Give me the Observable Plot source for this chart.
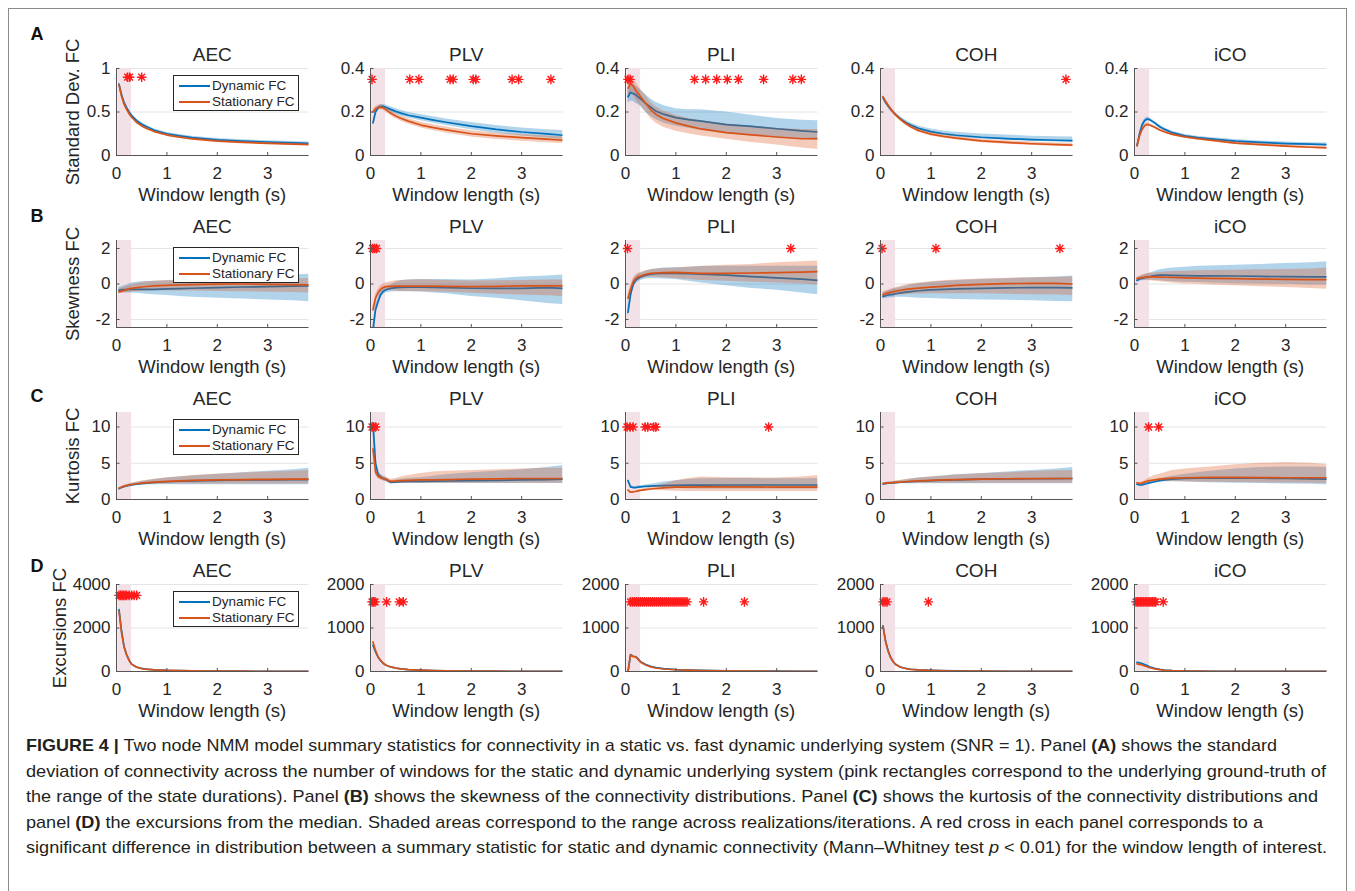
<!DOCTYPE html>
<html><head><meta charset="utf-8">
<script src="https://cdn.jsdelivr.net/npm/d3@7"></script>
<script src="https://cdn.jsdelivr.net/npm/@observablehq/plot@0.6"></script>
<style>
body{margin:0;background:#fff;font-family:"Liberation Sans",Arial,Helvetica,sans-serif;}
#fig{position:relative;width:1355px;height:891px;overflow:hidden;background:#fff;}
#frame{position:absolute;left:8px;top:8px;width:1339px;height:1000px;border:1px solid #8a8a8a;box-sizing:border-box;}
.lbl{position:absolute;white-space:nowrap;line-height:1;color:#262626;transform:translate(-50%,-50%);}
.ylbl{position:absolute;white-space:nowrap;line-height:1;color:#262626;transform:translate(-50%,-50%) rotate(-90deg);}
.letter{position:absolute;font-weight:bold;font-size:18px;color:#111;transform:translate(-50%,-50%);line-height:1;}
.legend{position:absolute;width:126px;height:36px;border:1px solid #262626;background:#fff;box-sizing:border-box;font-size:13.5px;color:#262626;}
.legend .row{position:absolute;left:0;height:16px;width:100%;}
.legend .sw{position:absolute;left:5px;top:7px;width:31px;height:2px;}
.legend .tx{position:absolute;left:38px;top:0;line-height:16px;white-space:nowrap;}
#caption{position:absolute;left:26px;top:733px;font-size:17px;color:#231f20;}
#caption .ln{height:25.5px;line-height:25.5px;white-space:nowrap;}
svg.sub{position:absolute;overflow:visible;}
</style></head>
<body><div id="fig"><div id="frame"></div></div>
<script>
// ---------------- data ----------------
const windowLength = [0.05,0.1,0.15,0.2,0.25,0.3,0.4,0.5,0.6,0.75,1.0,1.25,1.5,2.0,2.5,3.0,3.5,3.82];
const measures = ["AEC","PLV","PLI","COH","iCO"];
const seriesNames = ["Dynamic FC","Stationary FC"];
const seriesColors = ["#0072BD","#D95319"];
const yLabels = ["Standard Dev. FC","Skewness FC","Kurtosis FC","Excursions FC"];
const panelLetters = ["A","B","C","D"];
const stateRange = [0.025, 0.3];
const xTicks = [0,1,2,3];
const xDomain = [0, 3.82];

// Row A: standard deviation
const sdAEC_dyn   = [0.82,0.70,0.61,0.55,0.50,0.46,0.40,0.36,0.33,0.29,0.25,0.225,0.205,0.18,0.165,0.155,0.145,0.14];
const sdAEC_dynLo = [0.81,0.69,0.60,0.54,0.49,0.45,0.39,0.35,0.32,0.28,0.24,0.215,0.195,0.17,0.155,0.145,0.135,0.13];
const sdAEC_dynHi = [0.83,0.71,0.63,0.57,0.52,0.48,0.42,0.38,0.345,0.305,0.265,0.24,0.22,0.195,0.18,0.17,0.16,0.155];
const sdAEC_sta   = [0.81,0.68,0.59,0.53,0.48,0.44,0.38,0.34,0.31,0.275,0.235,0.21,0.19,0.165,0.15,0.14,0.13,0.125];
const sdAEC_staLo = [0.80,0.67,0.58,0.52,0.47,0.43,0.37,0.33,0.30,0.265,0.225,0.20,0.18,0.155,0.14,0.13,0.12,0.115];
const sdAEC_staHi = [0.82,0.69,0.60,0.54,0.49,0.45,0.39,0.35,0.32,0.285,0.245,0.22,0.20,0.175,0.16,0.15,0.14,0.135];

const sdPLV_dyn   = [0.15,0.20,0.218,0.225,0.226,0.222,0.212,0.203,0.195,0.185,0.174,0.163,0.153,0.135,0.12,0.108,0.099,0.093];
const sdPLV_dynLo = [0.14,0.19,0.21,0.215,0.216,0.212,0.200,0.190,0.182,0.172,0.160,0.148,0.138,0.118,0.102,0.09,0.08,0.072];
const sdPLV_dynHi = [0.16,0.21,0.226,0.235,0.236,0.232,0.224,0.216,0.208,0.198,0.188,0.178,0.168,0.152,0.138,0.126,0.118,0.115];
const sdPLV_sta   = [0.20,0.215,0.22,0.222,0.219,0.212,0.195,0.182,0.171,0.158,0.140,0.128,0.118,0.100,0.090,0.082,0.075,0.07];
const sdPLV_staLo = [0.19,0.205,0.21,0.212,0.208,0.200,0.183,0.170,0.158,0.145,0.127,0.114,0.103,0.085,0.074,0.066,0.059,0.055];
const sdPLV_staHi = [0.21,0.225,0.23,0.232,0.229,0.222,0.206,0.193,0.183,0.170,0.153,0.141,0.131,0.114,0.104,0.096,0.09,0.086];

const sdPLI_dyn   = [0.27,0.29,0.285,0.28,0.27,0.26,0.24,0.222,0.205,0.19,0.174,0.165,0.158,0.142,0.134,0.123,0.113,0.108];
const sdPLI_dynLo = [0.24,0.25,0.25,0.24,0.235,0.225,0.20,0.18,0.165,0.15,0.135,0.125,0.115,0.10,0.09,0.082,0.075,0.07];
const sdPLI_dynHi = [0.30,0.33,0.33,0.32,0.31,0.30,0.28,0.26,0.245,0.23,0.215,0.21,0.21,0.20,0.185,0.17,0.162,0.16];
const sdPLI_sta   = [0.31,0.33,0.32,0.30,0.285,0.27,0.24,0.21,0.19,0.17,0.150,0.135,0.122,0.105,0.095,0.085,0.077,0.078];
const sdPLI_staLo = [0.27,0.29,0.28,0.26,0.245,0.23,0.20,0.17,0.15,0.13,0.112,0.10,0.09,0.075,0.06,0.048,0.035,0.028];
const sdPLI_staHi = [0.34,0.36,0.355,0.34,0.32,0.305,0.275,0.245,0.225,0.205,0.185,0.17,0.16,0.145,0.135,0.125,0.12,0.12];

const sdCOH_dyn   = [0.265,0.245,0.228,0.213,0.20,0.188,0.168,0.152,0.14,0.125,0.11,0.10,0.093,0.084,0.078,0.073,0.07,0.068];
const sdCOH_dynLo = [0.257,0.237,0.22,0.205,0.192,0.18,0.16,0.144,0.132,0.117,0.102,0.092,0.085,0.076,0.07,0.065,0.062,0.06];
const sdCOH_dynHi = [0.273,0.253,0.236,0.221,0.208,0.196,0.177,0.162,0.15,0.136,0.122,0.113,0.107,0.099,0.094,0.089,0.086,0.085];
const sdCOH_sta   = [0.27,0.25,0.232,0.215,0.20,0.187,0.165,0.147,0.132,0.115,0.098,0.088,0.08,0.067,0.06,0.054,0.05,0.048];
const sdCOH_staLo = [0.262,0.242,0.224,0.207,0.192,0.179,0.157,0.139,0.124,0.107,0.09,0.08,0.072,0.059,0.052,0.046,0.042,0.04];
const sdCOH_staHi = [0.278,0.258,0.24,0.223,0.208,0.195,0.173,0.155,0.14,0.123,0.106,0.096,0.088,0.075,0.068,0.062,0.058,0.056];

const sdICO_dyn   = [0.045,0.10,0.14,0.16,0.168,0.165,0.15,0.132,0.12,0.105,0.09,0.082,0.076,0.066,0.06,0.055,0.052,0.05];
const sdICO_dynLo = [0.04,0.094,0.133,0.152,0.16,0.157,0.142,0.125,0.113,0.098,0.083,0.075,0.069,0.059,0.053,0.048,0.045,0.043];
const sdICO_dynHi = [0.05,0.106,0.147,0.168,0.176,0.173,0.158,0.14,0.127,0.112,0.097,0.089,0.083,0.073,0.067,0.062,0.059,0.057];
const sdICO_sta   = [0.045,0.09,0.12,0.137,0.143,0.14,0.13,0.117,0.108,0.097,0.085,0.077,0.07,0.057,0.05,0.043,0.038,0.035];
const sdICO_staLo = [0.04,0.085,0.114,0.131,0.137,0.134,0.124,0.111,0.102,0.091,0.079,0.071,0.064,0.051,0.044,0.037,0.032,0.029];
const sdICO_staHi = [0.05,0.095,0.126,0.143,0.149,0.146,0.136,0.123,0.114,0.103,0.091,0.083,0.076,0.063,0.056,0.049,0.044,0.041];

// Row B: skewness
const skAEC_dyn   = [-0.35,-0.33,-0.32,-0.31,-0.3,-0.3,-0.3,-0.3,-0.3,-0.3,-0.28,-0.26,-0.24,-0.2,-0.17,-0.15,-0.12,-0.1];
const skAEC_dynLo = [-0.5,-0.5,-0.5,-0.5,-0.5,-0.5,-0.52,-0.55,-0.58,-0.6,-0.65,-0.7,-0.75,-0.8,-0.85,-0.9,-0.95,-1.0];
const skAEC_dynHi = [-0.2,-0.15,-0.1,-0.05,0,0.05,0.1,0.12,0.14,0.15,0.18,0.2,0.22,0.28,0.35,0.45,0.5,0.55];
const skAEC_sta   = [-0.45,-0.4,-0.36,-0.32,-0.28,-0.25,-0.2,-0.17,-0.14,-0.11,-0.08,-0.05,-0.03,-0.01,0,-0.02,-0.04,-0.05];
const skAEC_staLo = [-0.55,-0.52,-0.5,-0.48,-0.46,-0.45,-0.43,-0.42,-0.41,-0.4,-0.4,-0.4,-0.4,-0.42,-0.44,-0.46,-0.48,-0.5];
const skAEC_staHi = [-0.3,-0.25,-0.2,-0.15,-0.1,-0.05,0.02,0.08,0.12,0.16,0.2,0.22,0.25,0.28,0.3,0.3,0.3,0.3];

const skPLV_dyn   = [-2.6,-1.45,-1.0,-0.6,-0.42,-0.33,-0.25,-0.2,-0.19,-0.18,-0.18,-0.19,-0.2,-0.24,-0.25,-0.25,-0.2,-0.25];
const skPLV_dynLo = [-2.8,-1.7,-1.2,-0.8,-0.6,-0.5,-0.45,-0.43,-0.43,-0.43,-0.45,-0.5,-0.55,-0.7,-0.8,-0.95,-1.1,-1.15];
const skPLV_dynHi = [-2.3,-1.2,-0.8,-0.4,-0.25,-0.15,-0.05,0.1,0.18,0.22,0.25,0.25,0.25,0.22,0.3,0.4,0.45,0.5];
const skPLV_sta   = [-1.45,-0.8,-0.5,-0.3,-0.2,-0.15,-0.13,-0.12,-0.12,-0.12,-0.12,-0.12,-0.13,-0.15,-0.13,-0.1,-0.1,-0.1];
const skPLV_staLo = [-1.6,-1.0,-0.7,-0.5,-0.4,-0.35,-0.38,-0.4,-0.42,-0.42,-0.43,-0.45,-0.47,-0.52,-0.58,-0.62,-0.66,-0.7];
const skPLV_staHi = [-1.3,-0.6,-0.3,-0.1,0,0.05,0.12,0.18,0.2,0.22,0.24,0.22,0.2,0.17,0.18,0.2,0.22,0.22];

const skPLI_dyn   = [-1.6,-0.6,-0.05,0.2,0.32,0.4,0.5,0.55,0.58,0.6,0.6,0.58,0.55,0.5,0.42,0.35,0.27,0.2];
const skPLI_dynLo = [-1.9,-0.9,-0.3,0,0.12,0.2,0.28,0.3,0.3,0.28,0.25,0.15,0.05,-0.1,-0.25,-0.35,-0.5,-0.6];
const skPLI_dynHi = [-1.3,-0.3,0.2,0.4,0.5,0.6,0.72,0.8,0.85,0.9,0.92,0.95,0.98,1.0,1.0,1.0,1.0,1.0];
const skPLI_sta   = [-0.8,-0.3,0.1,0.3,0.4,0.45,0.55,0.6,0.62,0.64,0.65,0.63,0.6,0.6,0.62,0.64,0.67,0.7];
const skPLI_staLo = [-1.0,-0.5,-0.1,0.1,0.22,0.28,0.35,0.38,0.38,0.35,0.3,0.25,0.2,0.15,0.1,0.05,0,-0.05];
const skPLI_staHi = [-0.6,-0.1,0.3,0.5,0.6,0.65,0.75,0.8,0.85,0.88,0.9,0.95,1.0,1.05,1.1,1.2,1.25,1.3];

const skCOH_dyn   = [-0.7,-0.66,-0.62,-0.6,-0.58,-0.55,-0.5,-0.46,-0.43,-0.38,-0.33,-0.3,-0.28,-0.25,-0.22,-0.2,-0.2,-0.22];
const skCOH_dynLo = [-0.85,-0.82,-0.8,-0.78,-0.77,-0.75,-0.75,-0.75,-0.77,-0.8,-0.82,-0.85,-0.88,-0.9,-0.92,-0.95,-0.98,-1.0];
const skCOH_dynHi = [-0.5,-0.45,-0.4,-0.35,-0.3,-0.25,-0.2,-0.12,-0.05,0.02,0.1,0.15,0.2,0.25,0.3,0.35,0.4,0.45];
const skCOH_sta   = [-0.6,-0.55,-0.5,-0.47,-0.44,-0.4,-0.35,-0.3,-0.27,-0.23,-0.18,-0.13,-0.08,-0.02,0.02,0.04,0.03,0.0];
const skCOH_staLo = [-0.75,-0.72,-0.7,-0.68,-0.66,-0.64,-0.62,-0.6,-0.58,-0.56,-0.55,-0.55,-0.55,-0.55,-0.58,-0.6,-0.62,-0.65];
const skCOH_staHi = [-0.45,-0.4,-0.35,-0.3,-0.25,-0.2,-0.12,-0.05,0,0.06,0.12,0.18,0.22,0.28,0.32,0.35,0.38,0.4];

const skICO_dyn   = [0.2,0.28,0.32,0.36,0.4,0.42,0.47,0.5,0.5,0.49,0.47,0.46,0.46,0.45,0.43,0.41,0.4,0.4];
const skICO_dynLo = [0.1,0.15,0.18,0.2,0.22,0.22,0.2,0.18,0.15,0.12,0.1,0.08,0.06,0.02,0,-0.02,-0.05,-0.05];
const skICO_dynHi = [0.3,0.4,0.45,0.5,0.55,0.6,0.7,0.8,0.85,0.9,0.95,1.0,1.02,1.05,1.1,1.15,1.2,1.25];
const skICO_sta   = [0.3,0.33,0.36,0.38,0.4,0.4,0.4,0.39,0.38,0.37,0.35,0.33,0.32,0.3,0.28,0.26,0.25,0.25];
const skICO_staLo = [0.2,0.22,0.22,0.22,0.2,0.18,0.15,0.12,0.1,0.05,0,-0.02,-0.05,-0.1,-0.15,-0.2,-0.25,-0.3];
const skICO_staHi = [0.4,0.45,0.5,0.55,0.58,0.6,0.62,0.65,0.68,0.7,0.72,0.74,0.76,0.78,0.8,0.82,0.85,0.9];

// Row C: kurtosis
const kuAEC_dyn   = [1.5,1.65,1.78,1.88,1.95,2.02,2.12,2.2,2.27,2.35,2.45,2.52,2.58,2.65,2.7,2.72,2.73,2.75];
const kuAEC_dynLo = [1.4,1.55,1.68,1.78,1.85,1.9,1.95,2.0,2.02,2.05,2.05,2.05,2.05,2.05,2.05,2.05,2.05,2.05];
const kuAEC_dynHi = [1.6,1.75,1.9,2.0,2.1,2.2,2.35,2.5,2.6,2.75,2.95,3.1,3.25,3.5,3.7,3.9,4.1,4.3];
const kuAEC_sta   = [1.55,1.7,1.82,1.92,2.0,2.07,2.17,2.25,2.32,2.4,2.5,2.58,2.63,2.7,2.75,2.78,2.8,2.8];
const kuAEC_staLo = [1.45,1.6,1.72,1.82,1.9,1.96,2.02,2.06,2.1,2.12,2.15,2.15,2.15,2.15,2.15,2.15,2.15,2.15];
const kuAEC_staHi = [1.65,1.8,1.95,2.05,2.15,2.25,2.4,2.55,2.65,2.8,3.0,3.15,3.3,3.5,3.65,3.8,3.9,4.0];

const kuPLV_dyn   = [10.5,5.0,3.5,3.1,2.9,2.8,2.35,2.4,2.45,2.48,2.5,2.53,2.55,2.6,2.65,2.7,2.75,2.8];
const kuPLV_dynLo = [9.0,4.3,3.1,2.8,2.6,2.5,2.2,2.2,2.2,2.2,2.2,2.2,2.2,2.2,2.2,2.2,2.2,2.2];
const kuPLV_dynHi = [11.5,6.0,4.0,3.5,3.2,3.1,2.6,2.7,2.8,2.9,3.0,3.2,3.4,3.7,3.9,4.1,4.4,4.7];
const kuPLV_sta   = [7.0,3.8,3.2,3.0,2.9,2.8,2.5,2.55,2.6,2.65,2.7,2.72,2.75,2.8,2.85,2.9,2.9,2.9];
const kuPLV_staLo = [6.0,3.3,2.9,2.7,2.6,2.5,2.25,2.25,2.25,2.25,2.25,2.25,2.25,2.25,2.25,2.25,2.25,2.25];
const kuPLV_staHi = [8.0,4.5,3.6,3.4,3.2,3.1,2.8,2.9,3.1,3.3,3.6,3.8,3.9,4.0,4.1,4.2,4.3,4.3];

const kuPLI_dyn   = [2.6,1.75,1.65,1.65,1.7,1.75,1.8,1.85,1.88,1.92,1.95,1.97,1.98,2.0,2.0,2.0,2.0,2.0];
const kuPLI_dynLo = [2.4,1.6,1.5,1.5,1.55,1.6,1.65,1.7,1.7,1.65,1.55,1.5,1.45,1.45,1.45,1.45,1.45,1.45];
const kuPLI_dynHi = [2.8,1.9,1.8,1.8,1.85,1.9,2.0,2.1,2.2,2.4,2.6,2.75,2.85,2.9,2.9,2.85,2.85,2.9];
const kuPLI_sta   = [1.3,1.0,1.05,1.1,1.18,1.25,1.35,1.45,1.52,1.6,1.7,1.72,1.74,1.75,1.73,1.71,1.7,1.7];
const kuPLI_staLo = [1.2,0.9,0.95,1.0,1.05,1.1,1.2,1.25,1.25,1.2,1.15,1.1,1.1,1.1,1.1,1.1,1.1,1.1];
const kuPLI_staHi = [1.4,1.1,1.15,1.2,1.3,1.4,1.55,1.7,1.85,2.1,2.6,2.9,3.1,3.0,3.0,2.95,3.1,3.3];

const kuCOH_dyn   = [2.15,2.2,2.25,2.28,2.3,2.33,2.38,2.42,2.46,2.52,2.6,2.66,2.72,2.8,2.84,2.86,2.88,2.9];
const kuCOH_dynLo = [2.05,2.1,2.12,2.14,2.15,2.16,2.17,2.18,2.18,2.18,2.18,2.18,2.18,2.18,2.18,2.18,2.18,2.18];
const kuCOH_dynHi = [2.25,2.3,2.38,2.42,2.46,2.5,2.6,2.7,2.8,2.95,3.1,3.25,3.4,3.6,3.8,4.0,4.2,4.4];
const kuCOH_sta   = [2.2,2.25,2.28,2.3,2.33,2.36,2.4,2.45,2.5,2.56,2.63,2.7,2.75,2.82,2.86,2.88,2.9,2.9];
const kuCOH_staLo = [2.1,2.15,2.18,2.2,2.22,2.23,2.24,2.25,2.25,2.25,2.25,2.25,2.25,2.25,2.25,2.25,2.25,2.25];
const kuCOH_staHi = [2.3,2.35,2.4,2.45,2.5,2.55,2.65,2.75,2.85,2.98,3.12,3.25,3.38,3.55,3.7,3.85,3.95,4.0];

const kuICO_dyn   = [2.1,2.0,2.02,2.1,2.2,2.3,2.45,2.6,2.7,2.8,2.9,2.93,2.95,2.95,2.93,2.9,2.85,2.8];
const kuICO_dynLo = [2.0,1.9,1.92,2.0,2.1,2.2,2.3,2.4,2.45,2.45,2.4,2.35,2.3,2.25,2.2,2.15,2.1,2.05];
const kuICO_dynHi = [2.2,2.1,2.15,2.25,2.35,2.45,2.65,2.85,3.0,3.2,3.5,3.7,3.9,4.2,4.4,4.5,4.5,4.4];
const kuICO_sta   = [2.3,2.2,2.25,2.4,2.5,2.6,2.7,2.8,2.88,2.95,3.0,3.03,3.05,3.05,3.03,3.0,3.0,3.0];
const kuICO_staLo = [2.2,2.1,2.15,2.3,2.4,2.45,2.5,2.55,2.55,2.5,2.45,2.4,2.38,2.35,2.3,2.28,2.25,2.2];
const kuICO_staHi = [2.4,2.35,2.45,2.6,2.8,3.0,3.3,3.5,3.7,4.0,4.2,4.35,4.5,4.8,5.0,5.1,5.0,4.8];

// Row D: excursions (ranges are too thin to see)
const exAEC_dyn = [2850,1850,1150,780,520,340,200,140,105,75,50,38,30,20,14,10,8,6];
const exAEC_sta = [2750,1800,1120,760,500,330,195,135,100,72,48,36,28,18,13,9,7,5];
const exPLV_dyn = [600,450,330,250,190,150,105,80,62,45,30,22,17,10,7,5,4,3];
const exPLV_sta = [680,480,340,255,195,150,105,78,60,44,30,22,17,10,7,5,4,3];
const exPLI_dyn = [0,390,350,345,290,225,160,120,90,65,45,33,25,15,10,7,5,4];
const exPLI_sta = [0,380,340,335,280,215,150,105,80,58,40,30,22,14,9,6,4,3];
const exCOH_dyn = [1050,700,480,330,230,165,100,70,52,38,25,18,13,8,5,4,3,2];
const exCOH_sta = [1040,690,470,320,225,160,98,68,50,36,24,17,12,7,5,4,3,2];
const exICO_dyn = [210,200,185,160,135,110,72,48,33,20,12,8,6,4,3,2,2,1];
const exICO_sta = [175,165,150,130,110,90,62,42,29,18,10,7,5,3,2,2,1,1];

// significance markers (window lengths)
const starsSdAEC = [0.22,0.26,0.5];
const starsSdPLV = [0.03,0.78,0.96,1.58,1.64,2.04,2.09,2.81,2.94,3.58];
const starsSdPLI = [0.05,0.09,1.37,1.59,1.81,2.02,2.24,2.74,3.32,3.49];
const starsSdCOH = [3.68];
const starsSdICO = [];
const starsSkAEC = [];
const starsSkPLV = [0.04,0.08,0.12];
const starsSkPLI = [0.04,3.28];
const starsSkCOH = [0.03,1.1,3.56];
const starsSkICO = [];
const starsKuAEC = [];
const starsKuPLV = [0.03,0.06,0.1];
const starsKuPLI = [0.03,0.09,0.15,0.39,0.44,0.56,0.6,2.84];
const starsKuCOH = [];
const starsKuICO = [0.28,0.48];
const starsExAEC = [0.05,0.08,0.11,0.14,0.17,0.2,0.25,0.3,0.35,0.4];
const starsExPLV = [0.03,0.06,0.09,0.32,0.57,0.65];
const starsExPLI = [0.1,0.14,0.18,0.22,0.26,0.3,0.34,0.38,0.42,0.46,0.5,0.54,0.58,0.62,0.66,0.7,0.74,0.78,0.82,0.86,0.9,0.94,0.98,1.02,1.06,1.1,1.14,1.18,1.22,1.55,2.36];
const starsExCOH = [0.05,0.09,0.13,0.95];
const starsExICO = [0.03,0.06,0.09,0.12,0.15,0.18,0.21,0.24,0.27,0.3,0.33,0.36,0.39,0.42,0.57];

// axis settings per row
const yDomainsA = [[0,1],[0,0.4],[0,0.4],[0,0.4],[0,0.4]];
const yTicksA   = [[0,0.5,1],[0,0.2,0.4],[0,0.2,0.4],[0,0.2,0.4],[0,0.2,0.4]];
const starYA    = [0.9,0.35,0.35,0.35,0.35];
const yDomainB = [-2.45,2.45]; const yTicksB = [-2,0,2]; const starYB = 2;
const yDomainC = [0,12];       const yTicksC = [0,5,10]; const starYC = 10;
const yDomainsD = [[0,4000],[0,2000],[0,2000],[0,2000],[0,2000]];
const yTicksD   = [[0,2000,4000],[0,1000,2000],[0,1000,2000],[0,1000,2000],[0,1000,2000]];
const starYD    = [3500,1600,1600,1600,1600];

// ---------------- layout ----------------
const colX0 = [116,370,625,880,1134];
const rowTop = [68,240,412,584];
const plotW = 192.5, plotH = 87;
const ML = 60, MR = 12, MT = 12, MB = 8;
const yLabelX = [73,73,73,60];
const letterY = [34,216,396,566];

const rows = [
  {dyn:[sdAEC_dyn,sdPLV_dyn,sdPLI_dyn,sdCOH_dyn,sdICO_dyn],
   dynLo:[sdAEC_dynLo,sdPLV_dynLo,sdPLI_dynLo,sdCOH_dynLo,sdICO_dynLo],
   dynHi:[sdAEC_dynHi,sdPLV_dynHi,sdPLI_dynHi,sdCOH_dynHi,sdICO_dynHi],
   sta:[sdAEC_sta,sdPLV_sta,sdPLI_sta,sdCOH_sta,sdICO_sta],
   staLo:[sdAEC_staLo,sdPLV_staLo,sdPLI_staLo,sdCOH_staLo,sdICO_staLo],
   staHi:[sdAEC_staHi,sdPLV_staHi,sdPLI_staHi,sdCOH_staHi,sdICO_staHi],
   stars:[starsSdAEC,starsSdPLV,starsSdPLI,starsSdCOH,starsSdICO],
   dom:c=>yDomainsA[c], ticks:c=>yTicksA[c], starY:c=>starYA[c]},
  {dyn:[skAEC_dyn,skPLV_dyn,skPLI_dyn,skCOH_dyn,skICO_dyn],
   dynLo:[skAEC_dynLo,skPLV_dynLo,skPLI_dynLo,skCOH_dynLo,skICO_dynLo],
   dynHi:[skAEC_dynHi,skPLV_dynHi,skPLI_dynHi,skCOH_dynHi,skICO_dynHi],
   sta:[skAEC_sta,skPLV_sta,skPLI_sta,skCOH_sta,skICO_sta],
   staLo:[skAEC_staLo,skPLV_staLo,skPLI_staLo,skCOH_staLo,skICO_staLo],
   staHi:[skAEC_staHi,skPLV_staHi,skPLI_staHi,skCOH_staHi,skICO_staHi],
   stars:[starsSkAEC,starsSkPLV,starsSkPLI,starsSkCOH,starsSkICO],
   dom:c=>yDomainB, ticks:c=>yTicksB, starY:c=>starYB},
  {dyn:[kuAEC_dyn,kuPLV_dyn,kuPLI_dyn,kuCOH_dyn,kuICO_dyn],
   dynLo:[kuAEC_dynLo,kuPLV_dynLo,kuPLI_dynLo,kuCOH_dynLo,kuICO_dynLo],
   dynHi:[kuAEC_dynHi,kuPLV_dynHi,kuPLI_dynHi,kuCOH_dynHi,kuICO_dynHi],
   sta:[kuAEC_sta,kuPLV_sta,kuPLI_sta,kuCOH_sta,kuICO_sta],
   staLo:[kuAEC_staLo,kuPLV_staLo,kuPLI_staLo,kuCOH_staLo,kuICO_staLo],
   staHi:[kuAEC_staHi,kuPLV_staHi,kuPLI_staHi,kuCOH_staHi,kuICO_staHi],
   stars:[starsKuAEC,starsKuPLV,starsKuPLI,starsKuCOH,starsKuICO],
   dom:c=>yDomainC, ticks:c=>yTicksC, starY:c=>starYC},
  {dyn:[exAEC_dyn,exPLV_dyn,exPLI_dyn,exCOH_dyn,exICO_dyn],
   sta:[exAEC_sta,exPLV_sta,exPLI_sta,exCOH_sta,exICO_sta],
   stars:[starsExAEC,starsExPLV,starsExPLI,starsExCOH,starsExICO],
   dom:c=>yDomainsD[c], ticks:c=>yTicksD[c], starY:c=>starYD[c]}
];

const asterisk = {
  draw(ctx, size) {
    const r = Math.sqrt(size / Math.PI), d = r * Math.SQRT1_2;
    ctx.moveTo(-r, 0); ctx.lineTo(r, 0);
    ctx.moveTo(0, -r); ctx.lineTo(0, r);
    ctx.moveTo(-d, -d); ctx.lineTo(d, d);
    ctx.moveTo(-d, d); ctx.lineTo(d, -d);
  }
};

const fig = document.getElementById("fig");
function addDiv(cls, html, left, top, extra) {
  const el = document.createElement("div");
  el.className = cls; el.innerHTML = html;
  el.style.left = left + "px"; el.style.top = top + "px";
  if (extra) Object.assign(el.style, extra);
  fig.appendChild(el); return el;
}
const series = (ys) => windowLength.map((x, i) => ({x, y: ys[i]}));
const band = (lo, hi) => windowLength.map((x, i) => ({x, y1: lo[i], y2: hi[i]}));

rows.forEach((R, r) => {
  measures.forEach((m, c) => {
    const dom = R.dom(c), ticks = R.ticks(c);
    const span = dom[1] - dom[0];
    const marks = [
      Plot.ruleY(ticks, {stroke: "#e4e4e4", strokeWidth: 1}),
      Plot.rect([stateRange], {x1: d => d[0], x2: d => d[1], y1: dom[0], y2: dom[1], fill: "#f2e1e7"}),
    ];
    if (R.dynLo) marks.push(Plot.areaY(band(R.dynLo[c], R.dynHi[c]), {x: "x", y1: "y1", y2: "y2", fill: seriesColors[0], fillOpacity: 0.3, clip: true}));
    marks.push(Plot.lineY(series(R.dyn[c]), {x: "x", y: "y", stroke: seriesColors[0], strokeWidth: 1.7, clip: true}));
    if (R.staLo) marks.push(Plot.areaY(band(R.staLo[c], R.staHi[c]), {x: "x", y1: "y1", y2: "y2", fill: seriesColors[1], fillOpacity: 0.3, clip: true}));
    marks.push(Plot.lineY(series(R.sta[c]), {x: "x", y: "y", stroke: seriesColors[1], strokeWidth: 1.7, clip: true}));
    const sy = R.starY(c);
    marks.push(Plot.dot(R.stars[c].map(x => ({x, y: sy})), {x: "x", y: "y", symbol: asterisk, r: 4.8, stroke: "#ff1a1a", fill: "none", strokeWidth: 1.4}));
    // axes lines and inward ticks
    marks.push(Plot.ruleX([0], {y1: dom[0], y2: dom[1], stroke: "#555", strokeWidth: 1}));
    marks.push(Plot.ruleY([dom[0]], {x1: xDomain[0], x2: xDomain[1], stroke: "#555", strokeWidth: 1}));
    marks.push(Plot.ruleX(xTicks, {y1: dom[0], y2: dom[0] + span * 0.035, stroke: "#555"}));
    marks.push(Plot.ruleY(ticks, {x1: 0, x2: 0.07, stroke: "#555"}));

    const svg = Plot.plot({
      width: ML + plotW + MR, height: MT + plotH + MB + 30,
      marginLeft: ML, marginRight: MR, marginTop: MT, marginBottom: MB + 30,
      x: {domain: xDomain, ticks: xTicks, tickSize: 0, tickPadding: 11, label: null, tickFormat: d => String(d)},
      y: {domain: dom, ticks: ticks, tickSize: 0, tickPadding: 6, label: null, tickFormat: d => String(d)},
      style: {fontSize: "17px", fontFamily: '"Liberation Sans", Arial, sans-serif', color: "#262626", background: "transparent", overflow: "visible"},
      marks
    });
    svg.classList.add("sub");
    svg.style.left = (colX0[c] - ML) + "px";
    svg.style.top = (rowTop[r] - MT) + "px";
    fig.appendChild(svg);

    const cx = colX0[c] + plotW / 2;
    addDiv("lbl", m, cx, rowTop[r] - 14, {fontSize: "19px"});
    addDiv("lbl", "Window length (s)", cx, rowTop[r] + plotH + 40, {fontSize: "18.5px"});

    if (c === 0) {
      const lg = addDiv("legend", "", colX0[0] + 57, rowTop[r] + 7);
      seriesNames.forEach((nm, i) => {
        const row = document.createElement("div");
        row.className = "row"; row.style.top = (2 + i * 16) + "px";
        row.innerHTML = `<div class="sw" style="background:${seriesColors[i]}"></div><div class="tx">${nm}</div>`;
        lg.appendChild(row);
      });
    }
  });
  addDiv("ylbl", yLabels[r], yLabelX[r], rowTop[r] + plotH / 2, {fontSize: "18.5px"});
  addDiv("letter", panelLetters[r], 37, letterY[r]);
});

// caption
const captionLines = [
  '<b>FIGURE 4 |</b> Two node NMM model summary statistics for connectivity in a static vs. fast dynamic underlying system (SNR = 1). Panel <b>(A)</b> shows the standard',
  'deviation of connectivity across the number of windows for the static and dynamic underlying system (pink rectangles correspond to the underlying ground-truth of',
  'the range of the state durations). Panel <b>(B)</b> shows the skewness of the connectivity distributions. Panel <b>(C)</b> shows the kurtosis of the connectivity distributions and',
  'panel <b>(D)</b> the excursions from the median. Shaded areas correspond to the range across realizations/iterations. A red cross in each panel corresponds to a',
  'significant difference in distribution between a summary statistic for static and dynamic connectivity (Mann–Whitney test <i>p</i> &lt; 0.01) for the window length of interest.'
];
const captionRight = [1277,1326,1318,1263,1327];
const cap = addDiv("", "", 26, 733); cap.id = "caption";
captionLines.forEach((t, i) => {
  const d = document.createElement("div");
  d.className = "ln";
  const s = document.createElement("span"); s.innerHTML = t;
  s.style.display = "inline-block"; s.style.transformOrigin = "0 50%";
  d.appendChild(s); cap.appendChild(d);
  const w = s.getBoundingClientRect().width;
  const target = captionRight[i] - 26;
  if (w > 0) { const k = Math.max(0.8, Math.min(1.25, target / w)); s.style.transform = `scaleX(${k})`; }
});
</script>
</body></html>
